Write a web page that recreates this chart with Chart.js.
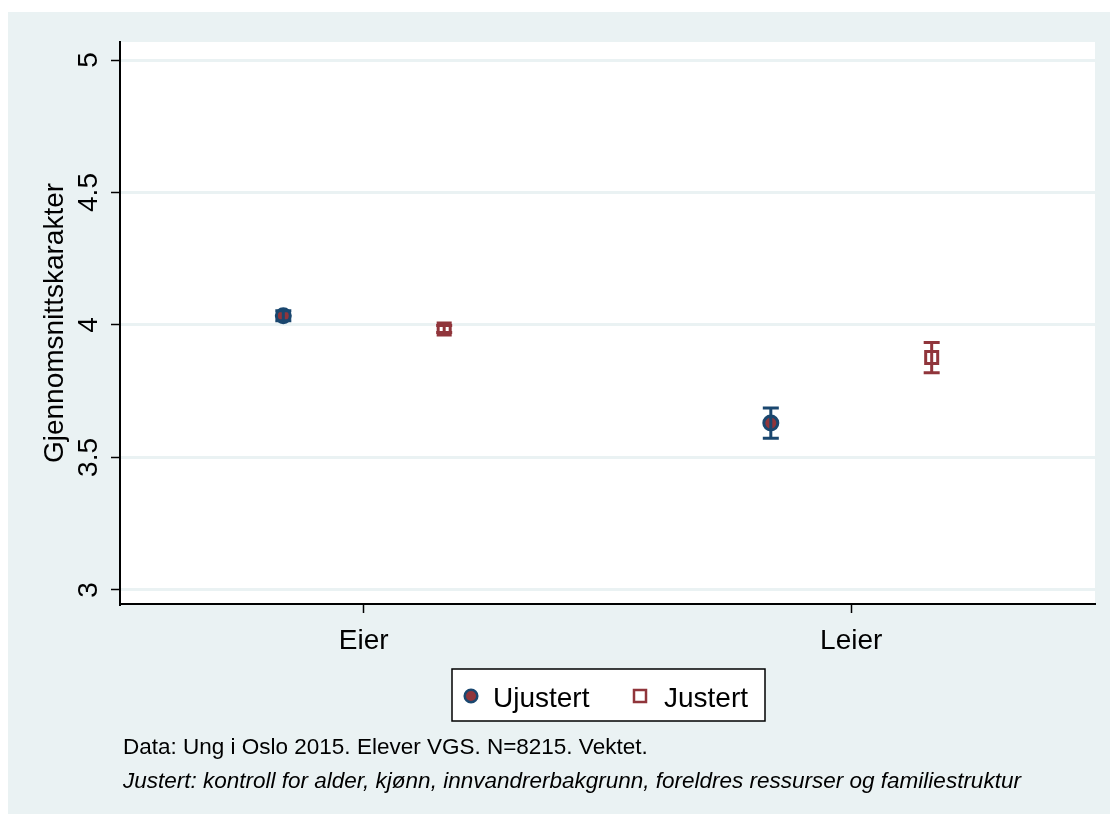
<!DOCTYPE html>
<html>
<head>
<meta charset="utf-8">
<script src="https://cdn.jsdelivr.net/npm/chart.js@4/dist/chart.umd.min.js"></script>
<style>
  html, body { margin: 0; padding: 0; background: #ffffff; }
  #wrap { position: absolute; left: 8px; top: 12px; width: 1102px; height: 802px; background: #eaf2f3; }
  canvas { display: block; }
</style>
</head>
<body>
<div id="wrap"><canvas id="chart" width="1102" height="802"></canvas></div>
<script>
// Data
const categories = ['Eier', 'Leier']
const seriesNames = ['Ujustert', 'Justert']
const ujustert = [4.035, 3.630]
const ujustertLo = [4.016, 3.573]
const ujustertHi = [4.054, 3.687]
const justert = [3.985, 3.877]
const justertLo = [3.972, 3.820]
const justertHi = [3.998, 3.934]
const yTicks = [3, 3.5, 4, 4.5, 5]
const yTitle = 'Gjennomsnittskarakter'
const notes = [
  'Data: Ung i Oslo 2015. Elever VGS. N=8215. Vektet.',
  'Justert: kontroll for alder, kjønn, innvandrerbakgrunn, foreldres ressurser og familiestruktur'
]

const NAVY = '#1a476f'
const MAROON = '#90353b'
const BG = '#eaf2f3'
const FONT = '"Liberation Sans", Arial, sans-serif'
const OFFSET = 0.165 // horizontal dodge of the two series within a category

const toPoints = (vals, shift) => vals.map((v, i) => ({ x: i + 1 + shift, y: v }))

const plotBackground = {
  id: 'plotBackground',
  beforeDraw(chart) {
    const { ctx, chartArea: a } = chart
    ctx.save()
    ctx.fillStyle = '#ffffff'
    ctx.fillRect(a.left, a.top, a.right - a.left, a.bottom - a.top)
    ctx.restore()
  }
}

// confidence intervals drawn through the chart scales
const errorBars = {
  id: 'errorBars',
  afterDatasetsDraw(chart) {
    const { ctx } = chart
    const xs = chart.scales.x
    const ys = chart.scales.y
    const sets = [
      { lo: ujustertLo, hi: ujustertHi, shift: -OFFSET, color: NAVY },
      { lo: justertLo, hi: justertHi, shift: OFFSET, color: MAROON }
    ]
    ctx.save()
    ctx.lineWidth = 3
    sets.forEach(s => {
      ctx.strokeStyle = s.color
      s.lo.forEach((lo, i) => {
        const px = xs.getPixelForValue(i + 1 + s.shift)
        const p1 = ys.getPixelForValue(lo)
        const p2 = ys.getPixelForValue(s.hi[i])
        ctx.beginPath()
        ctx.moveTo(px, p1); ctx.lineTo(px, p2)
        ctx.moveTo(px - 8, p1); ctx.lineTo(px + 8, p1)
        ctx.moveTo(px - 8, p2); ctx.lineTo(px + 8, p2)
        ctx.stroke()
      })
    })
    ctx.restore()
  }
}

// rotated y tick labels, legend box and notes
const extras = {
  id: 'extras',
  afterDraw(chart) {
    const { ctx } = chart
    const ys = chart.scales.y
    ctx.save()
    ctx.fillStyle = '#000000'
    ctx.font = '28px ' + FONT
    ctx.textAlign = 'center'
    ctx.textBaseline = 'alphabetic'
    yTicks.forEach(v => {
      ctx.save()
      ctx.translate(78.5, ys.getPixelForValue(v))
      ctx.rotate(-Math.PI / 2)
      ctx.fillText(String(v), 0, 10)
      ctx.restore()
    })

    // legend
    ctx.fillStyle = '#ffffff'
    ctx.fillRect(444, 657, 313, 52)
    ctx.strokeStyle = '#000000'
    ctx.lineWidth = 1.5
    ctx.strokeRect(444, 657, 313, 52)
    const ds = chart.data.datasets
    ctx.lineWidth = 2.5
    ctx.beginPath()
    ctx.arc(463, 684, 6.3, 0, Math.PI * 2)
    ctx.fillStyle = ds[0].pointBackgroundColor
    ctx.fill()
    ctx.strokeStyle = ds[0].pointBorderColor
    ctx.stroke()
    ctx.strokeStyle = ds[1].pointBorderColor
    ctx.strokeRect(626, 678, 12, 12)
    ctx.fillStyle = '#000000'
    ctx.textAlign = 'left'
    ctx.fillText(ds[0].label, 485, 695)
    ctx.fillText(ds[1].label, 656, 695)

    // notes
    ctx.font = '22.5px ' + FONT
    ctx.fillText(notes[0], 115, 742)
    ctx.font = 'italic 22.5px ' + FONT
    ctx.fillText(notes[1], 115, 776)
    ctx.restore()
  }
}

new Chart(document.getElementById('chart'), {
  type: 'scatter',
  data: {
    datasets: [
      {
        label: seriesNames[0],
        data: toPoints(ujustert, -OFFSET),
        pointStyle: 'circle',
        pointRadius: 7,
        pointBackgroundColor: MAROON,
        pointBorderColor: NAVY,
        pointBorderWidth: 3
      },
      {
        label: seriesNames[1],
        data: toPoints(justert, OFFSET),
        pointStyle: 'rect',
        pointRadius: 8.5,
        pointBackgroundColor: 'rgba(255,255,255,0)',
        pointBorderColor: MAROON,
        pointBorderWidth: 3
      }
    ]
  },
  options: {
    responsive: false,
    animation: false,
    devicePixelRatio: 1,
    layout: { padding: { top: 30, right: 15, left: 0, bottom: 0 } },
    plugins: {
      legend: { display: false },
      tooltip: { enabled: false }
    },
    scales: {
      x: {
        type: 'linear',
        min: 0.5,
        max: 2.5,
        afterFit: s => { s.height = 210 },
        afterBuildTicks: s => { s.ticks = categories.map((c, i) => ({ value: i + 1 })) },
        ticks: {
          callback: v => categories[v - 1],
          color: '#000000',
          font: { family: FONT, size: 28 },
          padding: 11,
          maxRotation: 0
        },
        grid: { drawOnChartArea: false, tickLength: 9, tickColor: '#000000', tickWidth: 1.5 },
        border: { color: '#000000', width: 2 }
      },
      y: {
        min: 2.947,
        max: 5.068,
        afterFit: s => { s.width = 112 },
        afterBuildTicks: s => { s.ticks = yTicks.map(v => ({ value: v })) },
        ticks: { color: 'rgba(0,0,0,0)', font: { family: FONT, size: 28 } },
        grid: { color: BG, lineWidth: 3, tickLength: 9, tickColor: '#000000', tickWidth: 1.5 },
        border: { color: '#000000', width: 2 },
        title: {
          display: true,
          text: yTitle,
          color: '#000000',
          font: { family: FONT, size: 28 },
          padding: { top: 30, bottom: 0 }
        }
      }
    }
  },
  plugins: [plotBackground, errorBars, extras]
})
</script>
</body>
</html>
